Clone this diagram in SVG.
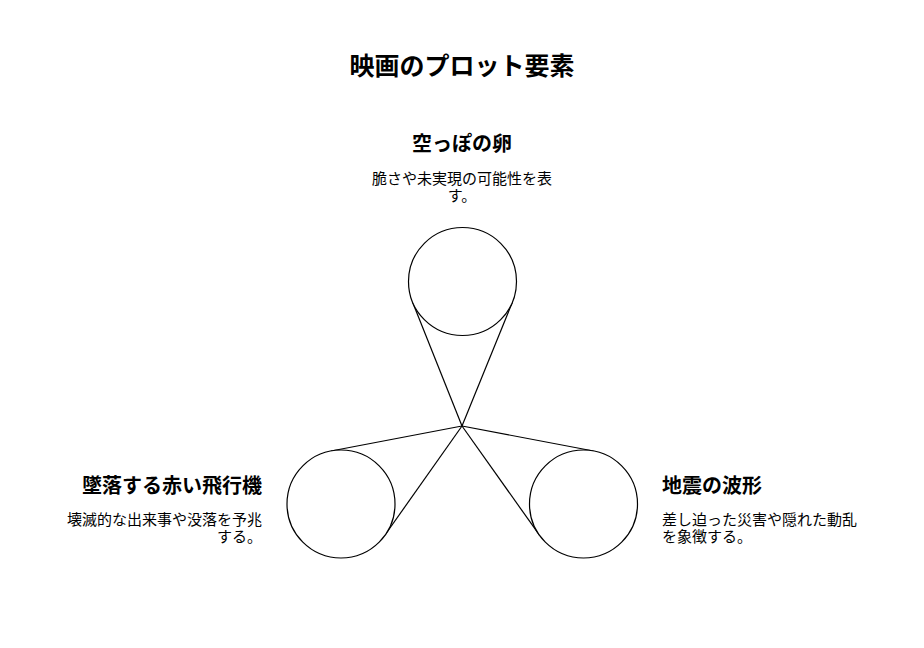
<svg xmlns="http://www.w3.org/2000/svg" width="924" height="648" viewBox="0 0 924 648">
<style>
text{font-family:"Noto Sans CJK JP","Noto Sans",sans-serif;fill:#000}
.title{font-size:25px;font-weight:bold}
.label{font-size:20px;font-weight:bold}
.desc{font-size:15px}
.conn line{stroke:#000;stroke-width:1.2}
.node circle{fill:#fff;stroke:#000;stroke-width:1.2}
</style>
<rect width="924" height="648" fill="#fff"/>
<text class="title" x="462" y="75" text-anchor="middle">映画のプロット要素</text>
<g id="connectors" class="conn">
<line x1="462" y1="426" x2="412.4" y2="301.7"/>
<line x1="462" y1="426" x2="512.6" y2="301.7"/>
<line x1="462" y1="426" x2="331" y2="451"/>
<line x1="462" y1="426" x2="385" y2="535"/>
<line x1="462" y1="426" x2="593.5" y2="451"/>
<line x1="462" y1="426" x2="539.5" y2="535.2"/>
</g>
<g id="node-egg" class="node">
<circle cx="462.5" cy="281.5" r="54"/>
<text class="label" x="462" y="151" text-anchor="middle">空っぽの卵</text>
<text class="desc" x="462" y="184" text-anchor="middle">脆さや未実現の可能性を表</text>
<text class="desc" x="462" y="201" text-anchor="middle">す。</text>
</g>
<g id="node-plane" class="node">
<circle cx="341" cy="504" r="54"/>
<text class="label" x="262" y="493" text-anchor="end">墜落する赤い飛行機</text>
<text class="desc" x="262" y="525" text-anchor="end">壊滅的な出来事や没落を予兆</text>
<text class="desc" x="262" y="542" text-anchor="end">する。</text>
</g>
<g id="node-quake" class="node">
<circle cx="583.5" cy="504" r="54"/>
<text class="label" x="662" y="493">地震の波形</text>
<text class="desc" x="662" y="525">差し迫った災害や隠れた動乱</text>
<text class="desc" x="662" y="542">を象徴する。</text>
</g>
</svg>
